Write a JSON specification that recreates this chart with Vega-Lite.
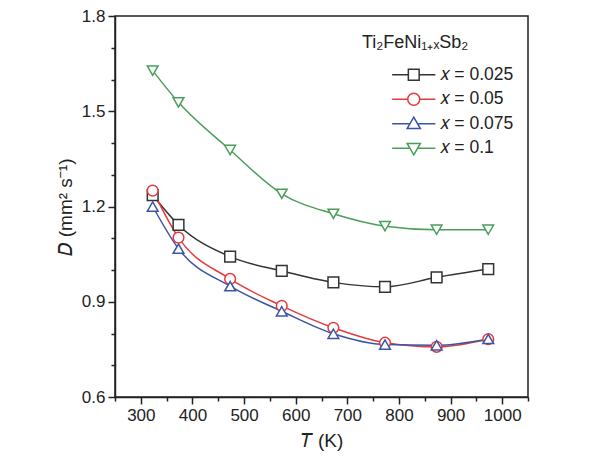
{
  "$schema": "https://vega.github.io/schema/vega-lite/v6.json",
  "autosize": {"type": "none"},
  "width": 413,
  "height": 381,
  "padding": {"left": 115, "top": 16, "right": 72, "bottom": 66},
  "background": "white",
  "config": {
    "font": "Liberation Sans",
    "view": {"stroke": "#222", "strokeWidth": 1.5},
    "axis": {"labelFont": "Liberation Sans", "titleFont": "Liberation Sans", "labelColor": "#222", "titleColor": "#222", "domainColor": "#222", "tickColor": "#222", "domainWidth": 1.5, "tickWidth": 1.5, "grid": false, "labelFontSize": 17, "titleFontSize": 19, "titleFontWeight": "normal"}
  },
  "data": {"values": [
    {"T": 323, "D": 1.236, "series": "x = 0.025"},
    {"T": 373, "D": 1.142, "series": "x = 0.025"},
    {"T": 473, "D": 1.042, "series": "x = 0.025"},
    {"T": 573, "D": 0.997, "series": "x = 0.025"},
    {"T": 673, "D": 0.961, "series": "x = 0.025"},
    {"T": 773, "D": 0.947, "series": "x = 0.025"},
    {"T": 873, "D": 0.977, "series": "x = 0.025"},
    {"T": 973, "D": 1.003, "series": "x = 0.025"},
    {"T": 323, "D": 1.250, "series": "x = 0.05"},
    {"T": 373, "D": 1.102, "series": "x = 0.05"},
    {"T": 473, "D": 0.972, "series": "x = 0.05"},
    {"T": 573, "D": 0.887, "series": "x = 0.05"},
    {"T": 673, "D": 0.818, "series": "x = 0.05"},
    {"T": 773, "D": 0.771, "series": "x = 0.05"},
    {"T": 873, "D": 0.758, "series": "x = 0.05"},
    {"T": 973, "D": 0.782, "series": "x = 0.05"},
    {"T": 323, "D": 1.200, "series": "x = 0.075"},
    {"T": 373, "D": 1.067, "series": "x = 0.075"},
    {"T": 473, "D": 0.949, "series": "x = 0.075"},
    {"T": 573, "D": 0.870, "series": "x = 0.075"},
    {"T": 673, "D": 0.799, "series": "x = 0.075"},
    {"T": 773, "D": 0.765, "series": "x = 0.075"},
    {"T": 873, "D": 0.763, "series": "x = 0.075"},
    {"T": 973, "D": 0.783, "series": "x = 0.075"},
    {"T": 323, "D": 1.628, "series": "x = 0.1"},
    {"T": 373, "D": 1.528, "series": "x = 0.1"},
    {"T": 473, "D": 1.378, "series": "x = 0.1"},
    {"T": 573, "D": 1.240, "series": "x = 0.1"},
    {"T": 673, "D": 1.177, "series": "x = 0.1"},
    {"T": 773, "D": 1.138, "series": "x = 0.1"},
    {"T": 873, "D": 1.127, "series": "x = 0.1"},
    {"T": 973, "D": 1.127, "series": "x = 0.1"}
  ]},
  "layer": [
    {
      "mark": {"type": "line", "interpolate": "monotone", "strokeWidth": 1.5},
      "encoding": {
        "x": {"field": "T", "type": "quantitative", "scale": {"domain": [250, 1050], "nice": false},
              "axis": {"orient": "bottom", "values": [300, 400, 500, 600, 700, 800, 900, 1000], "format": "d", "tickSize": 7, "labelPadding": 3, "title": "𝑇 (K)", "titlePadding": 8}},
        "y": {"field": "D", "type": "quantitative", "scale": {"domain": [0.6, 1.8], "nice": false, "zero": false},
              "axis": {"orient": "left", "values": [0.6, 0.9, 1.2, 1.5, 1.8], "format": ".1f", "tickSize": 7, "labelPadding": 3, "title": "𝐷 (mm² s⁻¹)", "titlePadding": 6}},
        "color": {"field": "series", "type": "nominal",
                  "scale": {"domain": ["x = 0.025", "x = 0.05", "x = 0.075", "x = 0.1"], "range": ["#333333", "#e63a3e", "#3a55a6", "#4a9e5a"]},
                  "legend": {
                    "orient": "none", "legendX": 247, "legendY": 18,
                    "title": "Ti₂FeNi₁₊ₓSb₂", "titleFontSize": 18, "titleFontWeight": "normal", "titleColor": "#222", "titleFont": "Liberation Sans", "titlePadding": 14,
                    "labelFontSize": 17.5, "labelColor": "#222", "labelFont": "Liberation Sans", "labelOffset": 17,
                    "labelExpr": "replace(datum.label, 'x', '𝑥')",
                    "symbolOffset": 43, "symbolSize": 144, "symbolStrokeWidth": 1.5, "symbolFillColor": "white", "rowPadding": 5.5,
                    "encode": {"symbols": {"update": {"shape": {"signal": "datum.value === 'x = 0.025' ? 'M-3.6,0H-0.9M0.9,0H3.6M-0.9,-0.9H0.9V0.9H-0.9Z' : datum.value === 'x = 0.05' ? 'M-3.6,0H-1M1,0H3.6M1,0A1,1 0 1,1 -1,0A1,1 0 1,1 1,0Z' : datum.value === 'x = 0.075' ? 'M-3.6,0H-0.75M0.75,0H3.6M0,-1.1L1.1,0.8L-1.1,0.8Z' : 'M-3.6,0H-0.75M0.75,0H3.6M0,1.1L1.1,-0.8L-1.1,-0.8Z'"}, "fill": {"value": "white"}}}}
                  }}
      }
    },
    {
      "transform": [{"filter": "datum.series === 'x = 0.025'"}],
      "mark": {"type": "point", "shape": "square", "filled": false, "fill": "white", "fillOpacity": 1, "strokeWidth": 1.5, "size": 115, "opacity": 1},
      "encoding": {
        "x": {"field": "T", "type": "quantitative", "axis": null},
        "y": {"field": "D", "type": "quantitative", "axis": null},
        "color": {"field": "series", "type": "nominal"}
      }
    },
    {
      "transform": [{"filter": "datum.series === 'x = 0.05'"}],
      "mark": {"type": "point", "shape": "circle", "filled": false, "fill": "white", "fillOpacity": 1, "strokeWidth": 1.5, "size": 115, "opacity": 1},
      "encoding": {
        "x": {"field": "T", "type": "quantitative", "axis": null},
        "y": {"field": "D", "type": "quantitative", "axis": null},
        "color": {"field": "series", "type": "nominal"}
      }
    },
    {
      "transform": [{"filter": "datum.series === 'x = 0.075'"}],
      "mark": {"type": "point", "shape": "triangle-up", "filled": false, "fill": "white", "fillOpacity": 1, "strokeWidth": 1.5, "size": 115, "opacity": 1},
      "encoding": {
        "x": {"field": "T", "type": "quantitative", "axis": null},
        "y": {"field": "D", "type": "quantitative", "axis": null},
        "color": {"field": "series", "type": "nominal"}
      }
    },
    {
      "transform": [{"filter": "datum.series === 'x = 0.1'"}],
      "mark": {"type": "point", "shape": "triangle-down", "filled": false, "fill": "white", "fillOpacity": 1, "strokeWidth": 1.5, "size": 115, "opacity": 1},
      "encoding": {
        "x": {"field": "T", "type": "quantitative", "axis": null},
        "y": {"field": "D", "type": "quantitative", "axis": null},
        "color": {"field": "series", "type": "nominal"}
      }
    },
    {
      "mark": {"type": "rule", "opacity": 0},
      "encoding": {
        "x": {"field": "T", "type": "quantitative",
              "axis": {"orient": "bottom", "values": [250, 350, 450, 550, 650, 750, 850, 950, 1050], "tickSize": 4, "labels": false, "domain": false, "title": null}},
        "y": {"field": "D", "type": "quantitative",
              "axis": {"orient": "left", "values": [0.7, 0.8, 1.0, 1.1, 1.3, 1.4, 1.6, 1.7], "tickSize": 4, "labels": false, "domain": false, "title": null}}
      }
    }
  ],
  "resolve": {"axis": {"x": "independent", "y": "independent"}}
}
